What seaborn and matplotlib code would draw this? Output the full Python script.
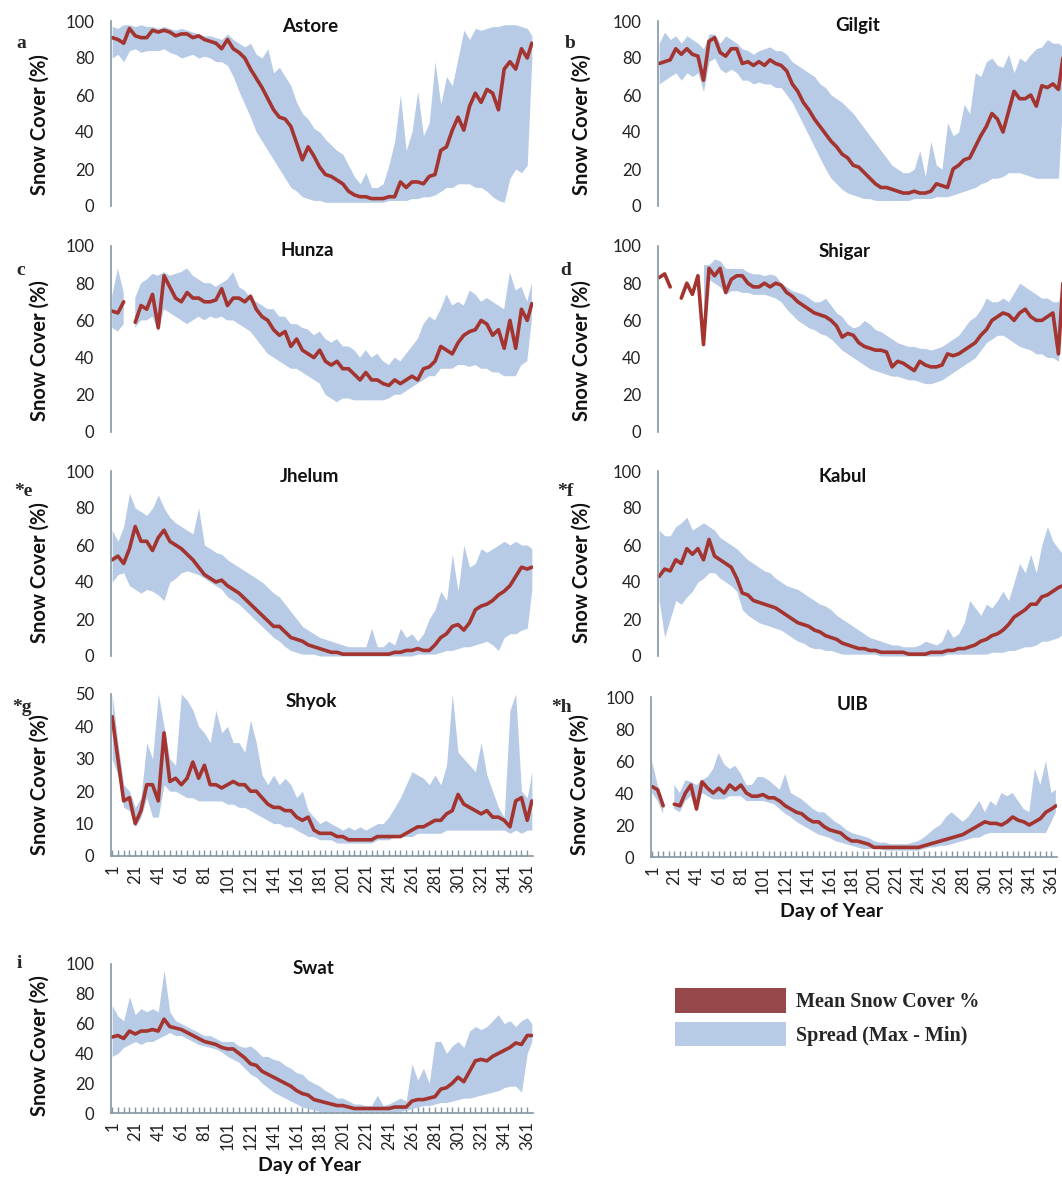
import numpy as np
import pandas as pd
import matplotlib
matplotlib.use("Agg")
import matplotlib.pyplot as plt
from matplotlib.patches import Patch
from matplotlib.ticker import MultipleLocator
import seaborn as sns

nan = np.nan

# day of year, sampled every 5 days
DAYS = list(range(1, 362, 5)) + [365]

# ---- Astore ----
astore_mean = [91, 90, 88, 96, 92, 91, 91, 95, 94, 95, 94, 92, 93, 93, 91, 92, 90, 89, 88, 85,
               90, 85, 83, 80, 74, 69, 64, 58, 52, 48, 47, 43, 34, 25, 32, 27, 21, 17, 16, 14,
               12, 8, 6, 5, 5, 4, 4, 4, 5, 5, 13, 10, 13, 13, 12, 16, 17, 30, 32, 41,
               48, 41, 54, 61, 56, 63, 61, 52, 74, 78, 74, 85, 80, 88]
astore_max = [97, 96, 98, 98, 97, 98, 97, 97, 96, 97, 96, 95, 96, 95, 94, 93, 92, 92, 91, 90,
              93, 90, 88, 86, 88, 82, 80, 85, 72, 75, 70, 65, 56, 50, 47, 42, 40, 36, 33, 30,
              28, 22, 16, 12, 18, 10, 10, 12, 22, 35, 60, 30, 40, 62, 38, 45, 78, 55, 70, 65,
              80, 95, 90, 96, 95, 96, 97, 97, 98, 98, 98, 97, 96, 92]
astore_min = [80, 82, 78, 84, 85, 83, 84, 84, 84, 85, 83, 82, 80, 81, 82, 80, 81, 80, 78, 78,
              76, 70, 62, 55, 48, 40, 35, 30, 25, 20, 15, 10, 8, 5, 4, 3, 3, 2, 2, 2,
              2, 2, 2, 2, 2, 2, 2, 2, 3, 3, 3, 3, 4, 4, 5, 5, 6, 8, 10, 10,
              12, 12, 12, 10, 10, 8, 5, 3, 2, 15, 20, 18, 22, 80]

# ---- Gilgit ----
gilgit_mean = [77, 78, 79, 85, 82, 85, 82, 81, 68, 89, 91, 83, 81, 85, 85, 77, 78, 76, 78, 76,
               79, 77, 76, 73, 66, 62, 56, 52, 47, 43, 39, 35, 32, 28, 26, 22, 21, 18, 15, 12,
               10, 10, 9, 8, 7, 7, 8, 7, 7, 8, 12, 11, 10, 20, 22, 25, 26, 32, 38, 43,
               50, 47, 40, 51, 62, 58, 58, 60, 54, 65, 64, 66, 63, 80]
gilgit_max = [88, 94, 90, 92, 88, 92, 90, 88, 85, 93, 93, 88, 92, 90, 88, 85, 84, 82, 84, 85,
              86, 84, 84, 82, 78, 76, 74, 72, 70, 66, 64, 60, 58, 56, 53, 50, 46, 42, 38, 34,
              30, 26, 22, 20, 18, 18, 20, 30, 16, 35, 22, 20, 45, 38, 40, 55, 50, 72, 70, 78,
              80, 76, 75, 82, 72, 80, 78, 82, 85, 86, 90, 88, 88, 86]
gilgit_min = [66, 68, 70, 72, 68, 72, 70, 72, 62, 78, 80, 74, 72, 74, 72, 68, 68, 66, 67, 66,
              66, 64, 64, 60, 56, 50, 44, 38, 32, 26, 20, 15, 12, 9, 7, 6, 5, 4, 4, 3,
              3, 3, 3, 3, 3, 3, 4, 4, 4, 4, 5, 5, 5, 6, 7, 8, 9, 10, 12, 13,
              15, 15, 16, 18, 18, 18, 17, 16, 15, 15, 15, 15, 15, 60]

# ---- Hunza ----
hunza_mean = [65, 64, 70, nan, 59, 68, 66, 74, 56, 84, 78, 72, 70, 75, 72, 72, 70, 70, 71, 77,
              68, 72, 72, 70, 73, 66, 62, 60, 55, 52, 54, 46, 50, 44, 42, 40, 44, 38, 36, 38,
              34, 34, 31, 28, 32, 28, 28, 26, 25, 28, 26, 28, 30, 28, 34, 35, 38, 46, 44, 42,
              48, 52, 54, 55, 60, 58, 52, 55, 45, 60, 45, 66, 60, 69]
hunza_max = [73, 88, 75, nan, 72, 80, 82, 85, 84, 86, 84, 85, 86, 88, 84, 82, 80, 80, 78, 80,
             82, 86, 78, 76, 72, 70, 68, 66, 66, 62, 62, 58, 58, 56, 55, 52, 54, 50, 48, 50,
             46, 46, 44, 40, 44, 40, 42, 38, 36, 40, 38, 42, 46, 50, 58, 62, 60, 66, 74, 68,
             70, 68, 76, 74, 70, 72, 70, 68, 66, 86, 76, 78, 70, 80]
hunza_min = [56, 54, 58, nan, 56, 60, 60, 62, 54, 66, 64, 62, 60, 58, 60, 62, 60, 62, 61, 62,
             60, 60, 58, 56, 54, 50, 46, 42, 40, 38, 36, 34, 34, 32, 30, 28, 26, 20, 18, 16,
             18, 18, 17, 17, 17, 17, 17, 17, 18, 20, 20, 22, 24, 26, 28, 30, 30, 34, 34, 34,
             36, 36, 35, 36, 34, 34, 32, 32, 30, 30, 30, 36, 38, 60]

# ---- Shigar ----
shigar_mean = [83, 85, 78, nan, 72, 80, 74, 84, 47, 88, 84, 88, 75, 82, 84, 84, 80, 78, 78, 80,
               78, 80, 79, 75, 73, 70, 68, 66, 64, 63, 62, 60, 57, 51, 53, 52, 48, 46, 45, 44,
               44, 43, 35, 38, 37, 35, 33, 38, 36, 35, 35, 36, 42, 41, 42, 44, 46, 48, 52, 55,
               60, 62, 64, 63, 60, 64, 66, 62, 60, 60, 62, 64, 42, 80]
shigar_max = [nan, nan, nan, nan, nan, nan, nan, nan, 90, 90, 93, 92, 88, 88, 88, 88, 86, 85, 85, 84,
              85, 84, 80, 78, 76, 75, 74, 72, 70, 70, 72, 68, 64, 62, 58, 56, 57, 60, 58, 55,
              54, 52, 50, 48, 47, 46, 46, 45, 45, 44, 45, 46, 48, 50, 52, 56, 60, 62, 66, 72,
              70, 70, 72, 70, 75, 80, 78, 76, 74, 72, 72, 70, 70, 84]
shigar_min = [nan, nan, nan, nan, nan, nan, nan, nan, 45, 82, 80, 78, 74, 76, 76, 75, 75, 74, 74, 74,
              73, 72, 70, 66, 63, 60, 58, 56, 55, 53, 52, 50, 47, 44, 42, 40, 38, 36, 34, 33,
              32, 31, 30, 30, 29, 28, 28, 27, 26, 26, 27, 28, 30, 32, 34, 36, 38, 40, 44, 48,
              50, 52, 52, 50, 48, 46, 45, 44, 42, 42, 40, 40, 38, 78]

# ---- Jhelum ----
jhelum_mean = [52, 54, 50, 58, 70, 62, 62, 57, 64, 68, 62, 60, 58, 55, 52, 48, 44, 42, 40, 41,
               38, 36, 34, 31, 28, 25, 22, 19, 16, 16, 13, 10, 9, 8, 6, 5, 4, 3, 2, 2,
               1, 1, 1, 1, 1, 1, 1, 1, 1, 2, 2, 3, 3, 4, 3, 3, 6, 10, 12, 16,
               17, 14, 18, 25, 27, 28, 30, 33, 35, 38, 43, 48, 47, 48]
jhelum_max = [68, 62, 70, 88, 80, 78, 76, 80, 87, 80, 75, 72, 70, 68, 66, 80, 60, 58, 56, 55,
              52, 50, 48, 46, 44, 42, 40, 37, 34, 32, 28, 24, 20, 16, 14, 12, 10, 9, 8, 7,
              6, 5, 5, 5, 5, 15, 5, 5, 8, 6, 15, 10, 12, 8, 12, 20, 25, 35, 30, 55,
              35, 60, 48, 50, 58, 56, 58, 60, 62, 60, 62, 60, 60, 58]
jhelum_min = [40, 44, 45, 38, 36, 34, 36, 35, 33, 30, 40, 42, 45, 46, 45, 44, 42, 40, 38, 36,
              32, 30, 28, 25, 22, 19, 16, 13, 10, 8, 5, 3, 2, 1, 1, 1, 0, 0, 0, 0,
              0, 0, 0, 0, 0, 0, 0, 0, 0, 0, 0, 0, 0, 1, 1, 1, 1, 2, 3, 3,
              4, 5, 5, 6, 7, 8, 6, 3, 10, 12, 12, 14, 15, 36]

# ---- Kabul ----
kabul_mean = [43, 47, 46, 52, 50, 58, 55, 58, 52, 63, 54, 52, 50, 48, 42, 34, 33, 30, 29, 28,
              27, 26, 24, 22, 20, 18, 17, 16, 14, 13, 11, 10, 9, 7, 6, 5, 4, 4, 3, 3,
              2, 2, 2, 2, 2, 1, 1, 1, 1, 2, 2, 2, 3, 3, 4, 4, 5, 6, 8, 9,
              11, 12, 14, 17, 21, 23, 25, 28, 28, 32, 33, 35, 37, 38]
kabul_max = [68, 65, 65, 70, 72, 75, 68, 70, 72, 70, 68, 64, 62, 60, 58, 55, 52, 50, 48, 46,
             45, 42, 40, 38, 37, 36, 34, 32, 30, 28, 27, 25, 22, 20, 18, 16, 14, 12, 10, 9,
             8, 7, 6, 6, 5, 5, 5, 6, 8, 7, 6, 8, 15, 10, 12, 18, 30, 26, 22, 28,
             26, 30, 35, 30, 40, 50, 45, 55, 45, 60, 70, 62, 58, 55]
kabul_min = [30, 10, 20, 30, 28, 32, 35, 40, 42, 45, 45, 42, 40, 38, 35, 25, 22, 20, 18, 17,
             16, 15, 14, 12, 10, 8, 7, 5, 4, 4, 3, 3, 2, 1, 1, 1, 1, 1, 1, 1,
             0, 0, 0, 0, 0, 0, 0, 0, 0, 0, 0, 0, 1, 1, 1, 1, 1, 1, 1, 1,
             2, 2, 2, 3, 3, 4, 5, 5, 6, 8, 8, 9, 10, 12]

# ---- Shyok ----
shyok_mean = [43, 30, 17, 18, 10, 14, 22, 22, 17, 38, 23, 24, 22, 24, 29, 24, 28, 22, 22, 21,
              22, 23, 22, 22, 20, 20, 18, 16, 15, 15, 14, 14, 12, 11, 12, 8, 7, 7, 7, 6,
              6, 5, 5, 5, 5, 5, 6, 6, 6, 6, 6, 7, 8, 9, 9, 10, 11, 11, 13, 14,
              19, 16, 15, 14, 13, 14, 12, 12, 11, 9, 17, 18, 11, 17]
shyok_max = [50, 35, 22, 20, 15, 18, 35, 30, 50, 40, 30, 28, 50, 48, 45, 40, 38, 35, 45, 38,
             40, 35, 35, 32, 42, 35, 25, 22, 25, 22, 24, 22, 18, 20, 14, 12, 10, 11, 10, 9,
             8, 9, 8, 9, 8, 9, 10, 10, 12, 15, 18, 22, 26, 25, 24, 22, 25, 22, 28, 50,
             32, 30, 28, 26, 35, 25, 20, 15, 12, 45, 50, 20, 18, 26]
shyok_min = [30, 25, 15, 14, 9, 12, 18, 12, 12, 22, 20, 20, 19, 18, 18, 17, 17, 17, 17, 17,
             16, 16, 15, 15, 14, 13, 12, 11, 10, 10, 9, 9, 8, 7, 6, 6, 5, 5, 5, 4,
             4, 4, 4, 4, 4, 4, 5, 5, 5, 6, 6, 6, 6, 7, 7, 7, 7, 7, 8, 8,
             8, 8, 8, 8, 8, 8, 8, 8, 8, 7, 8, 7, 8, 8]

# ---- UIB ----
uib_mean = [44, 42, 32, nan, 33, 32, 40, 45, 30, 47, 43, 40, 43, 40, 45, 42, 45, 40, 38, 38,
            39, 37, 37, 35, 32, 30, 28, 27, 24, 22, 22, 19, 17, 16, 15, 12, 10, 10, 9, 8,
            6, 6, 6, 6, 6, 6, 6, 6, 6, 7, 8, 9, 10, 11, 12, 13, 14, 16, 18, 20,
            22, 21, 21, 20, 22, 25, 23, 22, 20, 22, 24, 28, 30, 32]
uib_max = [60, 45, 35, nan, 45, 40, 48, 47, 45, 48, 50, 55, 65, 58, 55, 57, 52, 45, 45, 50,
           50, 48, 45, 42, 52, 40, 38, 36, 33, 30, 28, 28, 25, 22, 20, 17, 15, 14, 13, 12,
           10, 9, 9, 8, 8, 8, 8, 9, 10, 12, 15, 18, 20, 25, 28, 25, 22, 25, 30, 35,
           28, 35, 32, 40, 38, 40, 35, 30, 28, 55, 45, 60, 40, 42]
uib_min = [40, 35, 27, nan, 30, 28, 35, 38, 28, 40, 38, 36, 36, 36, 38, 38, 38, 35, 35, 35,
           35, 34, 33, 30, 27, 25, 22, 20, 18, 16, 14, 13, 12, 10, 9, 8, 7, 6, 5, 5,
           5, 5, 4, 4, 4, 4, 4, 4, 4, 5, 6, 6, 7, 7, 8, 9, 10, 11, 12, 12,
           14, 15, 15, 15, 15, 15, 15, 15, 15, 15, 15, 15, 22, 28]

# ---- Swat ----
swat_mean = [51, 52, 50, 55, 53, 55, 55, 56, 55, 63, 58, 57, 56, 54, 52, 50, 48, 47, 46, 44,
             43, 43, 40, 37, 33, 32, 28, 26, 24, 22, 20, 18, 15, 13, 12, 9, 8, 7, 6, 5,
             5, 4, 3, 3, 3, 3, 3, 3, 3, 4, 4, 4, 8, 9, 9, 10, 11, 16, 17, 20,
             24, 21, 28, 35, 36, 35, 38, 40, 42, 44, 47, 46, 52, 52]
swat_max = [72, 65, 62, 78, 66, 70, 68, 70, 68, 96, 68, 62, 60, 58, 56, 54, 52, 52, 50, 48,
            48, 48, 45, 44, 45, 42, 38, 38, 36, 35, 32, 30, 27, 26, 22, 20, 18, 15, 13, 10,
            10, 8, 6, 6, 5, 5, 12, 5, 6, 8, 10, 8, 33, 22, 30, 20, 48, 48, 40, 45,
            48, 44, 55, 58, 56, 58, 62, 66, 60, 62, 58, 62, 64, 60]
swat_min = [38, 40, 44, 46, 48, 46, 48, 48, 50, 52, 54, 52, 52, 50, 48, 46, 45, 44, 43, 41,
            38, 36, 34, 30, 26, 24, 20, 17, 14, 12, 10, 8, 6, 4, 3, 2, 1, 1, 1, 1,
            1, 1, 1, 1, 1, 1, 1, 1, 1, 1, 1, 2, 3, 4, 5, 5, 6, 7, 7, 8,
            9, 10, 10, 11, 12, 13, 14, 15, 17, 18, 18, 14, 40, 48]

TICK_DAYS = list(range(1, 362, 20))

MEAN_RED = "#a3342f"
SPREAD_BLUE = "#b7cbe6"
LEG_RED = "#96474a"
AXIS_GREY = "#8497a3"

sns.set_style("white")
plt.rcParams["font.family"] = ["Lato", "DejaVu Sans"]

W, H = 1062, 1180
fig = plt.figure(figsize=(W / 100, H / 100), dpi=100)


def fx(x):
    return x / W


def fy(y):
    return 1 - y / H


# name, letter, mean, min, max, box(left, right, top, bottom) in px, ymax,
# show x labels, title pos, letter pos, ylabel (x px, y axes fraction)
panels = [
    ("Astore", "a", astore_mean, astore_min, astore_max, (111, 533, 21, 206), 100, False, (310, 26), (21, 44), (50, 0.44)),
    ("Gilgit", "b", gilgit_mean, gilgit_min, gilgit_max, (658, 1064, 21, 206), 100, False, (858, 26), (570, 44), (592, 0.44)),
    ("Hunza", "c", hunza_mean, hunza_min, hunza_max, (111, 533, 246, 432), 100, False, (307, 251), (21, 270), (50, 0.44)),
    ("Shigar", "d", shigar_mean, shigar_min, shigar_max, (658, 1064, 246, 432), 100, False, (845, 251), (566, 270), (592, 0.44)),
    ("Jhelum", "*e", jhelum_mean, jhelum_min, jhelum_max, (111, 533, 471, 656), 100, False, (310, 476), (23, 492), (50, 0.45)),
    ("Kabul", "*f", kabul_mean, kabul_min, kabul_max, (658, 1064, 471, 656), 100, False, (843, 476), (565, 492), (592, 0.45)),
    ("Shyok", "*g", shyok_mean, shyok_min, shyok_max, (111, 533, 694, 856), 50, True, (311, 701), (22, 707), (50, 0.44)),
    ("UIB", "*h", uib_mean, uib_min, uib_max, (651, 1057, 697, 857), 100, True, (853, 704), (561, 708), (590, 0.45)),
    ("Swat", "i", swat_mean, swat_min, swat_max, (111, 533, 964, 1113), 100, True, (313, 969), (19, 964), (50, 0.45)),
]

for name, letter, mean, lo, hi, box, ymax, xlab, tpos, lpos, ylpos in panels:
    left, right, top, bottom = box
    ax = fig.add_axes([fx(left), fy(bottom), (right - left) / W, (bottom - top) / H])

    # spread (max - min) band
    ax.fill_between(DAYS, np.array(lo, dtype=float), np.array(hi, dtype=float),
                    color=SPREAD_BLUE, linewidth=0)

    # mean line, broken where data are missing
    df = pd.DataFrame({"day": DAYS, "mean": mean})
    df["seg"] = df["mean"].isna().cumsum()
    df = df.dropna()
    sns.lineplot(data=df, x="day", y="mean", units="seg", estimator=None,
                 color=MEAN_RED, linewidth=2.6, ax=ax, legend=False)

    ax.set_xlim(0, 366)
    ax.set_ylim(0, ymax)
    ax.set_xlabel("")
    ax.set_ylabel("Snow Cover (%)", fontsize=14.5, fontweight="bold", color="#111111")
    ax.yaxis.set_label_coords((ylpos[0] - left) / (right - left), ylpos[1])

    ax.yaxis.set_major_locator(MultipleLocator(ymax / 5))
    ax.yaxis.set_minor_locator(MultipleLocator(ymax / 10))
    ax.tick_params(axis="y", which="both", direction="out", length=3, width=1,
                   color=AXIS_GREY, labelsize=12, labelcolor="#222222", pad=9)

    for s in ["top", "right"]:
        ax.spines[s].set_visible(False)
    ax.spines["left"].set_color(AXIS_GREY)
    ax.spines["left"].set_linewidth(1.2)

    if xlab:
        ax.spines["bottom"].set_color(AXIS_GREY)
        ax.spines["bottom"].set_linewidth(1.2)
        ax.set_xticks(TICK_DAYS)
        ax.set_xticklabels([str(d) for d in TICK_DAYS], rotation=90)
        ax.set_xticks(DAYS[:-1], minor=True)
        ax.tick_params(axis="x", which="both", direction="in", length=4, width=1,
                       color=AXIS_GREY, labelsize=12, labelcolor="#222222", pad=6,
                       bottom=True)
    else:
        ax.spines["bottom"].set_visible(False)
        ax.set_xticks([])

    ax.set_facecolor("none")
    ax.grid(False)

    fig.text(fx(tpos[0]), fy(tpos[1]), name, ha="center", va="center",
             fontsize=13.5, fontweight="bold", color="#111111")
    fig.text(fx(lpos[0]), fy(lpos[1]), letter, ha="center", va="center",
             fontsize=14, fontweight="bold", family=["Liberation Serif", "DejaVu Serif"])

fig.text(fx(832), fy(911), "Day of Year", ha="center", va="center",
         fontsize=14, fontweight="bold", color="#111111")
fig.text(fx(310), fy(1166), "Day of Year", ha="center", va="center",
         fontsize=14, fontweight="bold", color="#111111")

handles = [Patch(facecolor=LEG_RED, edgecolor="none"),
           Patch(facecolor=SPREAD_BLUE, edgecolor="none")]
fig.legend(handles, ["Mean Snow Cover %", "Spread (Max - Min)"],
           loc="upper left", bbox_to_anchor=(fx(675), fy(988)),
           frameon=False, borderpad=0, borderaxespad=0,
           handlelength=5.5, handleheight=1.5, handletextpad=0.5, labelspacing=0.45,
           prop={"family": ["Liberation Serif", "DejaVu Serif"], "weight": "bold", "size": 14.5})

fig.savefig("out.png", dpi=100)
